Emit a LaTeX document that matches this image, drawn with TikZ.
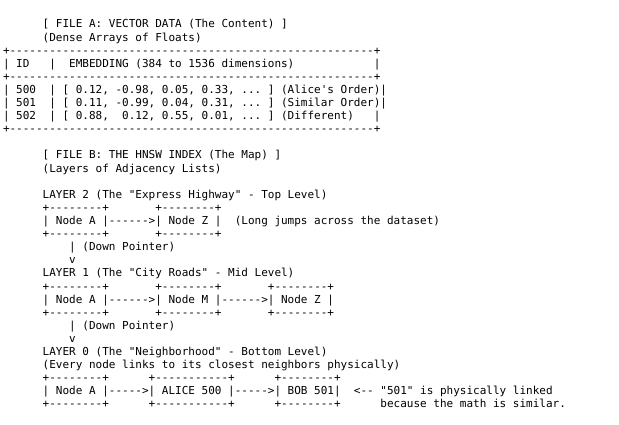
\documentclass[tikz,border=0pt]{standalone}
\usepackage{fontspec}
\setmonofont{DejaVu Sans Mono}
\tikzset{
  asc/.style={anchor=base west, inner sep=0pt, outer sep=0pt,
    font=\ttfamily\fontsize{11pt}{13pt}\selectfont\frenchspacing, text=black}
}
\begin{document}
\begin{tikzpicture}
\useasboundingbox[fill=white] (0pt,0pt) rectangle (619pt,-425pt);
\begin{scope}[shift={(3pt,-28pt)}, x=6.622pt, y=-13.1pt]
% FILE A
\node[asc] (l0) at (6,0) {[ FILE A: VECTOR DATA (The Content) ]};
\node[asc] (l1) at (6,1) {(Dense Arrays of Floats)};
\node[asc] (l2) at (0,2) {+-------------------------------------------------------+};
\node[asc] (l3) at (0,3) {|~ID~~~|~~EMBEDDING (384 to 1536 dimensions)~~~~~~~~~~~~|};
\node[asc] (l4) at (0,4) {+-------------------------------------------------------+};
\node[asc] (l5) at (0,5) {|~500~~|~[~0.12,~-0.98,~0.05,~0.33,~...~]~(Alice's~Order)|};
\node[asc] (l6) at (0,6) {|~501~~|~[~0.11,~-0.99,~0.04,~0.31,~...~]~(Similar~Order)|};
\node[asc] (l7) at (0,7) {|~502~~|~[~0.88,~~0.12,~0.55,~0.01,~...~]~(Different)~~~|};
\node[asc] (l8) at (0,8) {+-------------------------------------------------------+};
% FILE B
\node[asc] (l10) at (6,10) {[ FILE B: THE HNSW INDEX (The Map) ]};
\node[asc] (l11) at (6,11) {(Layers of Adjacency Lists)};
% Layer 2
\node[asc] (l13) at (6,13) {LAYER 2 (The "Express Highway" - Top Level)};
\node[asc] (l14) at (6,14) {+--------+~~~~~~~+--------+};
\node[asc] (l15) at (6,15) {|~Node~A~|------>|~Node~Z~|~~(Long jumps across the dataset)};
\node[asc] (l16) at (6,16) {+--------+~~~~~~~+--------+};
\node[asc] (l17) at (10,17) {|~(Down~Pointer)};
\node[asc] (l18) at (10,18) {v};
% Layer 1
\node[asc] (l19) at (6,19) {LAYER 1 (The "City Roads" - Mid Level)};
\node[asc] (l20) at (6,20) {+--------+~~~~~~~+--------+~~~~~~~+--------+};
\node[asc] (l21) at (6,21) {|~Node~A~|------>|~Node~M~|------>|~Node~Z~|};
\node[asc] (l22) at (6,22) {+--------+~~~~~~~+--------+~~~~~~~+--------+};
\node[asc] (l23) at (10,23) {|~(Down~Pointer)};
\node[asc] (l24) at (10,24) {v};
% Layer 0
\node[asc] (l25) at (6,25) {LAYER 0 (The "Neighborhood" - Bottom Level)};
\node[asc] (l26) at (6,26) {(Every node links to its closest neighbors physically)};
\node[asc] (l27) at (6,27) {+--------+~~~~~~+-----------+~~~~~~+--------+};
\node[asc] (l28) at (6,28) {|~Node~A~|----->|~ALICE~500~|----->|~BOB~501|~~<--~"501"~is~physically~linked};
\node[asc] (l29) at (6,29) {+--------+~~~~~~+-----------+~~~~~~+--------+~~~~~~because~the~math~is~similar.};
\end{scope}
\end{tikzpicture}
\end{document}
